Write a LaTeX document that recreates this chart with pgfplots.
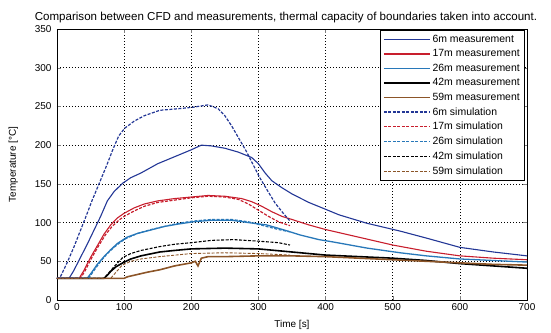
\documentclass[border=0pt]{standalone}
\usepackage{pgfplots}
\pgfplotsset{compat=1.18}
\usepackage{fontspec}
\setmainfont{Liberation Sans}
\definecolor{cA}{RGB}{35,55,150}
\definecolor{cB}{RGB}{200,30,45}
\definecolor{cC}{RGB}{40,120,185}
\definecolor{cD}{RGB}{0,0,0}
\definecolor{cE}{RGB}{140,85,40}
\begin{document}
\begin{tikzpicture}[x=1bp,y=1bp]
\useasboundingbox (-57bp,-33bp) rectangle (494bp,300bp);
\begin{axis}[
  at={(0,0)}, anchor=south west,
  scale only axis, width=470bp, height=271bp,
  xmin=0, xmax=700, ymin=0, ymax=350,
  xtick={0,100,...,700}, ytick={0,50,...,350},
  tick align=inside, tick pos=both,
  major tick length=4bp,
  grid=major,
  major grid style={black, dash pattern=on 1bp off 2bp, line width=0.7bp},
  /pgf/number format/assume math mode=true,
  tick label style={font=\fontsize{10}{11}\selectfont},
  yticklabel style={xshift=-2bp},
  xlabel={Time [s]}, ylabel={Temperature [°C]},
  label style={font=\fontsize{10}{11}\selectfont},
  xlabel style={yshift=-3bp},
  ylabel style={yshift=10bp},
  title={Comparison between CFD and measurements, thermal capacity of boundaries taken into account.},
  title style={font=\fontsize{11.6}{13}\selectfont, yshift=-3bp, xshift=-6bp},
  axis line style={black, line width=0.8bp},
  legend style={at={(0.996,0.997)}, anchor=north east, draw=black, line width=0.7bp,
     font=\fontsize{10.5}{12}\selectfont, row sep=1.7bp, inner sep=3bp},
  legend cell align=left,
  legend image code/.code={\draw[#1] (0bp,0bp) -- (46bp,0bp);},
]
% 6m measurement
\addplot[cA, line width=1.1bp] coordinates {(0,28)(18,28)(25,38)(35,55)(45,72)(55,90)(65,108)(75,128)(85,140)(98,151)(110,158)(125,164)(150,176)(175,185)(200,194)(215,200)(230,199)(250,196)(270,191)(290,184)(300,176)(310,164)(320,154)(335,145)(350,137)(375,126)(392,120)(420,110)(462,99)(511,89)(550,80)(600,68)(650,62)(700,57)};
\addlegendentry{6m measurement}
% 17m measurement
\addplot[cB, line width=1.1bp] coordinates {(0,28)(33,28)(40,38)(50,55)(60,70)(70,85)(80,97)(90,106)(100,112)(115,119)(130,124)(150,128)(175,131)(200,133)(225,135)(250,134)(275,131)(290,127)(305,121)(320,114)(335,108)(350,104)(375,97)(400,91)(450,81)(500,71)(550,63)(600,57)(650,54)(700,52)};
\addlegendentry{17m measurement}
% 26m measurement
\addplot[cC, line width=1.3bp] coordinates {(0,28)(45,28)(52,36)(60,46)(70,56)(80,65)(90,73)(104,81)(120,86)(138,90)(160,95)(180,98)(203,101)(230,103)(260,103)(285,100)(312,97)(340,90)(362,84)(390,78)(411,75)(462,67)(511,61)(550,57)(600,53)(650,51)(700,49)};
\addlegendentry{26m measurement}
% 42m measurement
\addplot[cD, line width=1.6bp] coordinates {(0,28)(70,28)(75,32)(80,37)(88,43)(98,48)(110,53)(125,57)(153,62)(175,64)(200,66)(250,67)(300,66)(350,62)(400,58)(450,56)(500,54)(550,51)(600,47)(650,44)(700,41)};
\addlegendentry{42m measurement}
% 59m measurement
\addplot[cE, line width=1.6bp] coordinates {(0,28)(100,28)(105,30)(120,33)(135,36)(153,39)(175,44)(200,48)(206,50)(210,44)(215,54)(225,56)(250,56)(300,57)(350,57)(400,56)(450,54)(500,52)(550,50)(600,48)(650,46)(700,45)};
\addlegendentry{59m measurement}
% 6m simulation
\addplot[cA, line width=1.2bp, dash pattern=on 3bp off 1.5bp] coordinates {(0,28)(4,28)(15,48)(25,68)(35,90)(45,112)(52,128)(65,155)(75,176)(83,194)(92,212)(101,222)(115,231)(130,238)(153,245)(180,247)(203,249)(225,252)(240,247)(250,238)(260,225)(272,207)(282,192)(292,175)(302,158)(313,142)(325,125)(337,112)(347,102)};
\addlegendentry{6m simulation}
% 17m simulation
\addplot[cB, line width=1.2bp, dash pattern=on 3bp off 1.5bp] coordinates {(0,28)(35,28)(42,38)(52,55)(62,70)(72,84)(82,95)(92,103)(100,108)(115,115)(130,121)(150,126)(175,129)(200,132)(225,134)(250,133)(270,130)(285,124)(300,116)(315,108)(330,101)(347,96)};
\addlegendentry{17m simulation}
% 26m simulation
\addplot[cC, line width=1.2bp, dash pattern=on 3bp off 1.5bp] coordinates {(0,28)(47,28)(55,38)(65,50)(75,60)(85,68)(95,75)(104,80)(120,86)(140,91)(160,95)(180,99)(203,102)(230,104)(260,104)(285,101)(312,95)(330,91)(347,88)};
\addlegendentry{26m simulation}
% 42m simulation
\addplot[cD, line width=1.1bp, dash pattern=on 3bp off 1.5bp] coordinates {(0,28)(70,28)(78,36)(86,44)(98,55)(110,60)(125,64)(153,69)(175,72)(200,74)(230,77)(263,78)(300,76)(330,74)(347,71)};
\addlegendentry{42m simulation}
% 59m simulation
\addplot[cE, line width=0.9bp, dash pattern=on 3bp off 1.5bp] coordinates {(0,28)(80,28)(88,36)(97,45)(110,50)(125,53)(153,56)(200,60)(250,61)(300,60)(347,58)};
\addlegendentry{59m simulation}
\end{axis}
\end{tikzpicture}
\end{document}
